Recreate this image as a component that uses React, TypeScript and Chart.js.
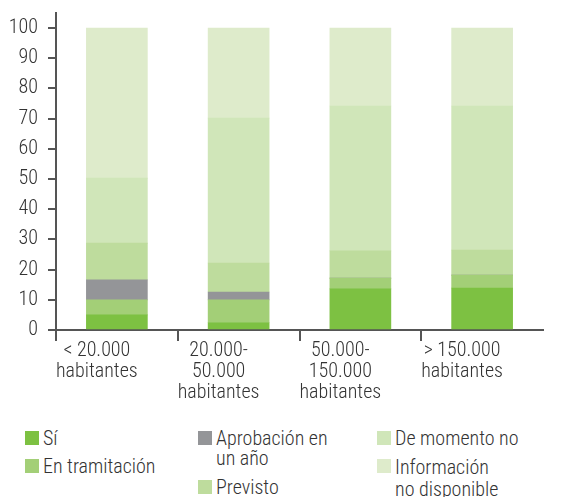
import React, { useEffect, useRef } from "react";
import { Chart, registerables } from "chart.js";

Chart.register(...registerables);

const categories: string[][] = [
  ["< 20.000", "habitantes"],
  ["20.000-", "50.000", "habitantes"],
  ["50.000-", "150.000", "habitantes"],
  ["> 150.000", "habitantes"],
];
const si = [5, 2.4, 13.6, 13.9];
const enTramitacion = [5, 7.6, 3.6, 4.3];
const aprobacion = [6.6, 2.6, 0, 0];
const previsto = [12.2, 9.6, 9, 8.3];
const deMomentoNo = [21.5, 48, 48, 47.7];
const infoNoDisponible = [49.7, 29.8, 25.8, 25.8];
const yTicks = [0, 10, 20, 30, 40, 50, 60, 70, 80, 90, 100];

const seriesNames = [
  "Sí",
  "En tramitación",
  "Aprobación en un año",
  "Previsto",
  "De momento no",
  "Información no disponible",
];
const colors = ["#7dc142", "#a3cf77", "#949598", "#bedc9d", "#d0e6b9", "#deebcb"];

const FONT = "'Roboto Condensed', 'DejaVu Sans Condensed', sans-serif";
const WEIGHT = 300;
const TEXT = "#333333";
const AXIS = "#555555";

type LegendItem = { lines: string[]; color: string; left: number; top: number; lh: number };
const legendItems: LegendItem[] = [
  { lines: ["Sí"], color: colors[0], left: 25, top: 431, lh: 20 },
  { lines: ["En tramitación"], color: colors[1], left: 25, top: 459, lh: 20 },
  { lines: ["Aprobación en", "un año"], color: colors[2], left: 198, top: 431, lh: 20 },
  { lines: ["Previsto"], color: colors[3], left: 198, top: 480, lh: 20 },
  { lines: ["De momento no"], color: colors[4], left: 377, top: 431, lh: 20 },
  { lines: ["Información", "no disponible"], color: colors[5], left: 377, top: 459, lh: 22 },
];

export default function App() {
  const ref = useRef<HTMLCanvasElement>(null);

  useEffect(() => {
    if (!ref.current) return;
    const data = [si, enTramitacion, aprobacion, previsto, deMomentoNo, infoNoDisponible];
    const chart = new Chart(ref.current, {
      type: "bar",
      data: {
        labels: categories,
        datasets: data.map((d, i) => ({
          label: seriesNames[i],
          data: d,
          backgroundColor: colors[i],
          borderWidth: 0,
          barThickness: 61,
        })),
      },
      options: {
        animation: false,
        responsive: false,
        maintainAspectRatio: false,
        layout: { padding: { top: 13, right: 21, left: 0, bottom: 0 } },
        plugins: { legend: { display: false }, tooltip: { enabled: false } },
        scales: {
          x: {
            stacked: true,
            afterFit: (s: any) => {
              s.height = 80;
              s.paddingLeft = 0;
              s.paddingRight = 0;
            },
            grid: {
              display: true,
              offset: true,
              drawOnChartArea: false,
              drawTicks: true,
              tickLength: 11,
              lineWidth: 2,
              color: (c: any) => (c.type === "tick" ? AXIS : "rgba(0,0,0,0)"),
            },
            border: { display: true, color: AXIS, width: 2 },
            ticks: {
              color: TEXT,
              padding: -1,
              labelOffset: -20,
              maxRotation: 0,
              autoSkip: false,
              font: { family: FONT, size: 20, weight: WEIGHT as any, lineHeight: 1.05 },
            },
          },
          y: {
            stacked: true,
            min: 0,
            max: 105,
            afterFit: (s: any) => {
              s.width = 56;
              s.paddingTop = 0;
              s.paddingBottom = 0;
            },
            afterBuildTicks: (s: any) => {
              s.ticks = yTicks.map((v) => ({ value: v }));
            },
            grid: {
              display: true,
              drawOnChartArea: false,
              drawTicks: true,
              tickLength: 8,
              lineWidth: 2,
              color: AXIS,
            },
            border: { display: true, color: AXIS, width: 2 },
            ticks: {
              color: TEXT,
              padding: 10,
              font: { family: FONT, size: 20, weight: WEIGHT as any },
            },
          },
        },
      },
    });
    return () => chart.destroy();
  }, []);

  return (
    <div style={{ position: "absolute", left: 0, top: 0, width: 564, height: 497, background: "#fff" }}>
      <canvas ref={ref} width={564} height={410} style={{ position: "absolute", left: 0, top: 0, width: 564, height: 410 }} />
      {legendItems.map((it, i) => (
        <div key={i}>
          <div
            style={{
              position: "absolute",
              left: it.left,
              top: it.top,
              width: 14,
              height: 14,
              background: it.color,
            }}
          />
          <div
            style={{
              position: "absolute",
              left: it.left + 18,
              top: it.top - 3,
              fontFamily: FONT,
              fontWeight: WEIGHT,
              fontSize: 20,
              lineHeight: it.lh + "px",
              color: TEXT,
              whiteSpace: "nowrap",
            }}
          >
            {it.lines.map((l, j) => (
              <div key={j}>{l}</div>
            ))}
          </div>
        </div>
      ))}
    </div>
  );
}
